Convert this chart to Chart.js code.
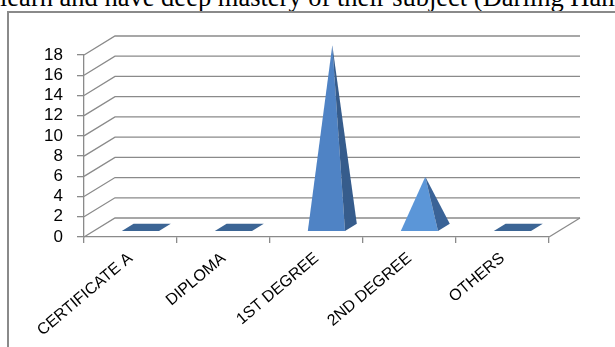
<!DOCTYPE html>
<html>
<head>
<meta charset="utf-8">
<script src="https://cdn.jsdelivr.net/npm/chart.js@4.4.0/dist/chart.umd.min.js"></script>
<style>
  html, body { margin: 0; padding: 0; background: #fff; overflow: hidden; }
  #page { position: relative; width: 615px; height: 347px; overflow: hidden; }
  #txt { position: absolute; left: 0; top: -16px; white-space: nowrap; font: 26.5px "Liberation Serif", serif; line-height: 26px; color: #000; }
  #frame { position: absolute; left: 7px; top: 11px; width: 700px; height: 400px; border-left: 2px solid #8a8a8a; border-top: 2px solid #8a8a8a; }
  canvas { position: absolute; left: 0; top: 0; }
</style>
</head>
<body>
<div id="page">
  <div id="txt">learn and have deep mastery of their subject (Darling Hammond</div>
  <div id="frame"></div>
  <canvas id="chart" width="615" height="347"></canvas>
</div>
<script>
// data
const categories = ["CERTIFICATE A", "DIPLOMA", "1ST DEGREE", "2ND DEGREE", "OTHERS"];
const teachers = [0, 0, 18, 5, 0];
const yTicksMax = 18;
const yTicksStep = 2;

// fake 3D depth (back wall offset)
const DX = 31, DY = -19;

const pseudo3d = {
  id: "pseudo3d",
  beforeDatasetsDraw(chart) {
    const { ctx, chartArea: a, scales: { x, y } } = chart;
    ctx.save();
    ctx.strokeStyle = "#8a8a8a";
    ctx.lineWidth = 1.3;
    // back wall grid lines
    y.ticks.forEach((t) => {
      const py = y.getPixelForValue(t.value);
      ctx.beginPath();
      ctx.moveTo(a.left, py);
      ctx.lineTo(a.left + DX, py + DY);
      ctx.lineTo(a.right + DX, py + DY);
      ctx.stroke();
    });
    // floor right edge
    const p0 = y.getPixelForValue(0);
    ctx.beginPath();
    ctx.moveTo(a.right, p0);
    ctx.lineTo(a.right + DX, p0 + DY);
    ctx.stroke();
    ctx.restore();
  },
  afterDatasetsDraw(chart) {
    const { ctx, scales: { x, y } } = chart;
    const catW = x.width / categories.length;
    const half = catW * 0.2;
    const d0 = 0.32, d1 = 0.7, dm = (d0 + d1) / 2;
    const y0 = y.getPixelForValue(0);
    ctx.save();
    teachers.forEach((v, i) => {
      const cx = x.getPixelForValue(i);
      const fl = [cx - half + d0 * DX, y0 + d0 * DY];
      const fr = [cx + half + d0 * DX, y0 + d0 * DY];
      const br = [cx + half + d1 * DX, y0 + d1 * DY];
      const bl = [cx - half + d1 * DX, y0 + d1 * DY];
      if (v === 0) {
        ctx.fillStyle = "#3c6595";
        ctx.beginPath();
        ctx.moveTo(...fl); ctx.lineTo(...fr); ctx.lineTo(...br); ctx.lineTo(...bl);
        ctx.closePath();
        ctx.fill();
        return;
      }
      const apex = [cx + dm * DX, y.getPixelForValue(v) + dm * DY];
      // front face
      ctx.fillStyle = i === 3 ? "#5b96d8" : "#4f83c5";
      ctx.beginPath();
      ctx.moveTo(...fl); ctx.lineTo(...fr); ctx.lineTo(...apex);
      ctx.closePath();
      ctx.fill();
      // right face
      ctx.fillStyle = i === 3 ? "#3a6397" : "#365c8c";
      ctx.beginPath();
      ctx.moveTo(...fr); ctx.lineTo(...br); ctx.lineTo(...apex);
      ctx.closePath();
      ctx.fill();
    });
    ctx.restore();
  },
};

const ctx = document.getElementById("chart").getContext("2d");

new Chart(ctx, {
  type: "bar",
  data: {
    labels: categories,
    datasets: [
      {
        label: "Teachers",
        data: teachers,
        backgroundColor: "rgba(0,0,0,0)",
        borderWidth: 0,
      },
    ],
  },
  options: {
    responsive: false,
    animation: false,
    layout: { padding: { left: 0, top: 55, right: 66, bottom: 0 } },
    plugins: {
      legend: { display: false },
      tooltip: { enabled: false },
    },
    scales: {
      x: {
        grid: {
          display: true,
          drawOnChartArea: false,
          drawTicks: true,
          tickLength: 6,
          color: "#8a8a8a",
          lineWidth: 1.3,
          offset: true,
        },
        border: { display: true, color: "#8a8a8a", width: 1.3 },
        ticks: {
          color: "#000",
          font: { family: "Liberation Sans", size: 16 },
          minRotation: 40,
          maxRotation: 40,
          autoSkip: false,
          padding: 6,
        },
        afterFit(scale) {
          scale.height = 110;
        },
      },
      y: {
        min: 0,
        max: yTicksMax,
        grid: {
          display: true,
          drawOnChartArea: false,
          drawTicks: true,
          tickLength: 7,
          color: "#8a8a8a",
          lineWidth: 1.3,
        },
        border: { display: true, color: "#8a8a8a", width: 1.3 },
        ticks: {
          stepSize: yTicksStep,
          autoSkip: false,
          color: "#000",
          font: { family: "Liberation Sans", size: 17 },
          padding: 14,
        },
        afterFit(scale) {
          scale.width = 84;
        },
      },
    },
  },
  plugins: [pseudo3d],
});
</script>
</body>
</html>
